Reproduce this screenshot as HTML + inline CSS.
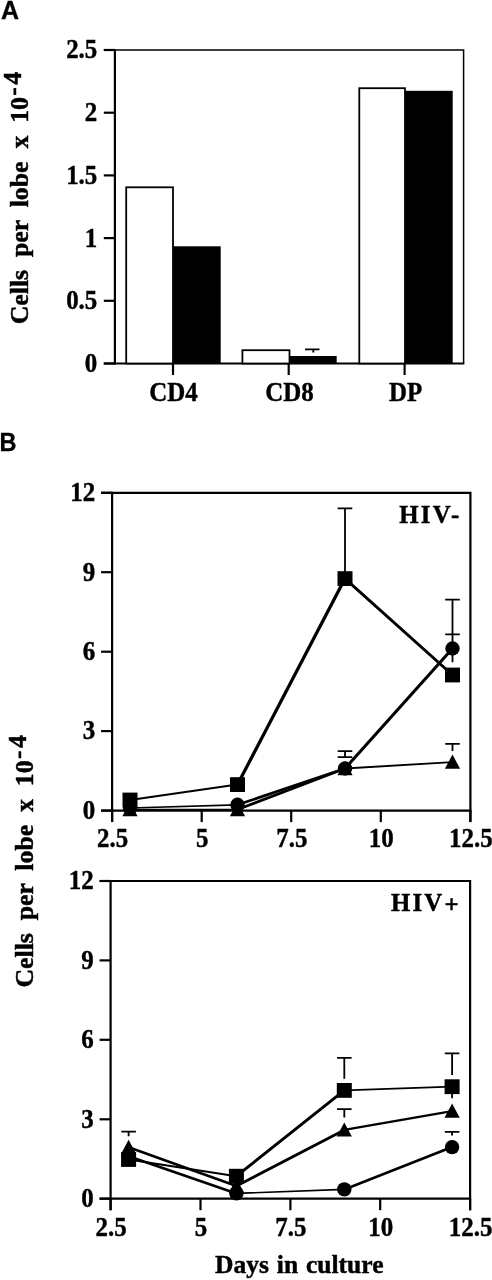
<!DOCTYPE html>
<html><head><meta charset="utf-8"><title>Figure</title>
<style>
html,body{margin:0;padding:0;background:#fff;overflow:hidden;}
svg{display:block}
text{font-family:"Liberation Serif","Times New Roman",serif;font-weight:bold;fill:#000;stroke:#000;stroke-width:0.45px;stroke-linejoin:round}
.pl{font-family:"Liberation Sans",Arial,sans-serif;font-weight:bold;font-size:25px;stroke-width:0.3px}
.ax{stroke:#000;stroke-width:2.2;fill:none;stroke-linecap:butt}
.thin{stroke:#000;stroke-width:1.5;fill:none}
.eb{stroke:#000;stroke-width:1.8;fill:none}
.dl{stroke:#000;fill:none;stroke-linecap:round}
</style></head><body>
<svg width="492" height="1280" viewBox="0 0 492 1280">
<rect width="492" height="1280" fill="#fff"/>

<text class="pl" x="1" y="18.9">A</text>
<path class="ax" d="M114.9 49V364.5"/>
<path class="ax" d="M103.8 363.5H464.3"/>
<path class="thin" d="M103.8 50H463.6V363.5"/>
<path class="ax" d="M103.8 50.0H114.9"/>
<text transform="translate(97.3,58.4) scale(0.89,1)" font-size="28" text-anchor="end">2.5</text>
<path class="ax" d="M103.8 112.7H114.9"/>
<text transform="translate(97.3,121.1) scale(0.89,1)" font-size="28" text-anchor="end">2</text>
<path class="ax" d="M103.8 175.4H114.9"/>
<text transform="translate(97.3,183.8) scale(0.89,1)" font-size="28" text-anchor="end">1.5</text>
<path class="ax" d="M103.8 238.1H114.9"/>
<text transform="translate(97.3,246.5) scale(0.89,1)" font-size="28" text-anchor="end">1</text>
<path class="ax" d="M103.8 300.8H114.9"/>
<text transform="translate(97.3,309.2) scale(0.89,1)" font-size="28" text-anchor="end">0.5</text>
<path class="ax" d="M103.8 363.5H114.9"/>
<text transform="translate(97.3,371.9) scale(0.89,1)" font-size="28" text-anchor="end">0</text>
<rect x="126.2" y="187.3" width="46.8" height="176.2" fill="#fff" stroke="#000" stroke-width="1.8"/>
<rect x="173" y="246.3" width="47.7" height="117.2" fill="#000"/>
<rect x="242.4" y="350.2" width="47.1" height="13.3" fill="#fff" stroke="#000" stroke-width="1.8"/>
<rect x="289.5" y="356.0" width="47.2" height="7.5" fill="#000"/>
<rect x="359.3" y="88.2" width="45.7" height="275.3" fill="#fff" stroke="#000" stroke-width="1.8"/>
<rect x="405" y="90.8" width="47.7" height="272.7" fill="#000"/>
<path class="eb" d="M305 349.3H319.5M313.3 349.3V352.5"/>
<path class="ax" d="M173 363.5V375"/>
<path class="ax" d="M288.7 363.5V375"/>
<path class="ax" d="M404.6 363.5V375"/>
<text transform="translate(173.4,400.9) scale(0.89,1)" font-size="28" text-anchor="middle">CD4</text>
<text transform="translate(289.5,400.9) scale(0.89,1)" font-size="28" text-anchor="middle">CD8</text>
<text transform="translate(405.5,400.9) scale(0.89,1)" font-size="28" text-anchor="middle">DP</text>
<text transform="translate(27.9,324.3) rotate(-90) scale(0.985,1)" font-size="26.2" text-anchor="start" word-spacing="6.5">Cells per lobe x 10<tspan dy="-6.6" dx="1.4" letter-spacing="2.5">-4</tspan></text>
<text class="pl" transform="translate(-0.4,451.1) scale(0.94,1)">B</text>
<path class="ax" d="M112.1 491.8V822.1"/>
<path class="ax" d="M101.1 810.6H471.4"/>
<path class="ax" d="M101.1 492.8H470.4V822.1"/>
<path class="ax" d="M101.1 492.8H112.1"/>
<text transform="translate(95.1,501.0) scale(0.89,1)" font-size="28" text-anchor="end">12</text>
<path class="ax" d="M101.1 572.2H112.1"/>
<text transform="translate(95.1,580.5) scale(0.89,1)" font-size="28" text-anchor="end">9</text>
<path class="ax" d="M101.1 651.7H112.1"/>
<text transform="translate(95.1,659.9) scale(0.89,1)" font-size="28" text-anchor="end">6</text>
<path class="ax" d="M101.1 731.1H112.1"/>
<text transform="translate(95.1,739.4) scale(0.89,1)" font-size="28" text-anchor="end">3</text>
<path class="ax" d="M101.1 810.6H112.1"/>
<text transform="translate(95.1,818.8) scale(0.89,1)" font-size="28" text-anchor="end">0</text>
<path class="ax" d="M112.1 810.6V822.1"/>
<text transform="translate(112.6,847.4) scale(0.89,1)" font-size="28" text-anchor="middle">2.5</text>
<path class="ax" d="M201.7 810.6V822.1"/>
<text transform="translate(202.2,847.4) scale(0.89,1)" font-size="28" text-anchor="middle">5</text>
<path class="ax" d="M291.2 810.6V822.1"/>
<text transform="translate(291.8,847.4) scale(0.89,1)" font-size="28" text-anchor="middle">7.5</text>
<path class="ax" d="M380.8 810.6V822.1"/>
<text transform="translate(381.3,847.4) scale(0.89,1)" font-size="28" text-anchor="middle">10</text>
<path class="ax" d="M470.4 810.6V822.1"/>
<text transform="translate(470.9,847.4) scale(0.89,1)" font-size="28" text-anchor="middle">12.5</text>
<text transform="translate(461.4,523.1) scale(1,1)" font-size="24.8" text-anchor="end" letter-spacing="2.2">HIV-</text>
<path class="eb" d="M337.7 508.3H352.3M345.0 508.3V572"/>
<path class="eb" d="M445.2 599.7H459.8M445.2 634.3H459.8M452.5 599.7V662.3"/>
<path class="eb" d="M337.7 751.1H352.3M337.7 757.2H352.3M345.0 751.1V757.2"/>
<path class="eb" d="M445.2 743.8H459.8M452.5 743.8V751"/>
<path class="dl" stroke-width="2.01" d="M130.0 800.0L237.5 784.6"/>
<path class="dl" stroke-width="3.28" d="M237.5 784.6L345.0 578.6"/>
<path class="dl" stroke-width="2.97" d="M345.0 578.6L452.5 675.0"/>
<path class="dl" stroke-width="1.72" d="M130.0 808.0L237.5 804.8"/>
<path class="dl" stroke-width="2.65" d="M237.5 804.8L345.0 768.5"/>
<path class="dl" stroke-width="3.07" d="M345.0 768.5L452.5 648.5"/>
<path class="dl" stroke-width="1.65" d="M130.0 809.5L237.5 809.5"/>
<path class="dl" stroke-width="2.68" d="M237.5 809.5L345.0 768.5"/>
<path class="dl" stroke-width="1.80" d="M345.0 768.5L452.5 762.1"/>
<rect x="122.5" y="792.6" width="15" height="14.8" fill="#000"/>
<rect x="230.0" y="777.2" width="15" height="14.8" fill="#000"/>
<rect x="337.5" y="571.2" width="15" height="14.8" fill="#000"/>
<rect x="445.0" y="667.6" width="15" height="14.8" fill="#000"/>
<circle cx="130.0" cy="808.0" r="7.2" fill="#000"/>
<circle cx="237.5" cy="804.8" r="7.2" fill="#000"/>
<circle cx="345.0" cy="768.5" r="7.2" fill="#000"/>
<circle cx="452.5" cy="648.5" r="7.2" fill="#000"/>
<path d="M130.0 802.0L137.6 816.2H122.4Z" fill="#000"/>
<path d="M237.5 802.0L245.1 816.2H229.9Z" fill="#000"/>
<path d="M345.0 761.0L352.6 775.2H337.4Z" fill="#000"/>
<path d="M452.5 754.6L460.1 768.8H444.9Z" fill="#000"/>
<path class="ax" d="M110.6 880V1210.2"/>
<path class="ax" d="M99.6 1198.7H471.1"/>
<path class="ax" d="M99.6 881H470.1V1210.2"/>
<path class="ax" d="M99.6 881.0H110.6"/>
<text transform="translate(93.6,889.2) scale(0.89,1)" font-size="28" text-anchor="end">12</text>
<path class="ax" d="M99.6 960.4H110.6"/>
<text transform="translate(93.6,968.6) scale(0.89,1)" font-size="28" text-anchor="end">9</text>
<path class="ax" d="M99.6 1039.8H110.6"/>
<text transform="translate(93.6,1048.0) scale(0.89,1)" font-size="28" text-anchor="end">6</text>
<path class="ax" d="M99.6 1119.3H110.6"/>
<text transform="translate(93.6,1127.5) scale(0.89,1)" font-size="28" text-anchor="end">3</text>
<path class="ax" d="M99.6 1198.7H110.6"/>
<text transform="translate(93.6,1206.9) scale(0.89,1)" font-size="28" text-anchor="end">0</text>
<path class="ax" d="M110.6 1198.7V1210.2"/>
<text transform="translate(111.1,1235.5) scale(0.89,1)" font-size="28" text-anchor="middle">2.5</text>
<path class="ax" d="M200.5 1198.7V1210.2"/>
<text transform="translate(201.0,1235.5) scale(0.89,1)" font-size="28" text-anchor="middle">5</text>
<path class="ax" d="M290.4 1198.7V1210.2"/>
<text transform="translate(290.9,1235.5) scale(0.89,1)" font-size="28" text-anchor="middle">7.5</text>
<path class="ax" d="M380.2 1198.7V1210.2"/>
<text transform="translate(380.7,1235.5) scale(0.89,1)" font-size="28" text-anchor="middle">10</text>
<path class="ax" d="M470.1 1198.7V1210.2"/>
<text transform="translate(470.6,1235.5) scale(0.89,1)" font-size="28" text-anchor="middle">12.5</text>
<text transform="translate(460.8,911.3) scale(1,1)" font-size="24.8" text-anchor="end" letter-spacing="2.2">HIV<tspan dy="1.8">+</tspan></text>
<path class="eb" d="M121.3 1131.7H135.9M128.6 1131.7V1136.3"/>
<path class="eb" d="M337.0 1057.8H351.6M344.3 1057.8V1078.8"/>
<path class="eb" d="M337.0 1109.1H351.6M344.3 1109.1V1117.4"/>
<path class="eb" d="M444.8 1053.4H459.4M452.1 1053.4V1074.9"/>
<path class="eb" d="M452.1 1090V1098.2"/>
<path class="eb" d="M444.8 1131.8H459.4M452.1 1131.8V1135.5"/>
<path class="dl" stroke-width="2.05" d="M128.6 1159.5L236.4 1176.2"/>
<path class="dl" stroke-width="2.93" d="M236.4 1176.2L344.3 1090.4"/>
<path class="dl" stroke-width="1.74" d="M344.3 1090.4L452.1 1086.7"/>
<path class="dl" stroke-width="2.65" d="M128.6 1156.3L236.4 1193.4"/>
<path class="dl" stroke-width="1.74" d="M236.4 1193.4L344.3 1189.4"/>
<path class="dl" stroke-width="2.69" d="M344.3 1189.4L452.1 1147.1"/>
<path class="dl" stroke-width="2.67" d="M128.6 1147.3L236.4 1186.0"/>
<path class="dl" stroke-width="2.78" d="M236.4 1186.0L344.3 1129.9"/>
<path class="dl" stroke-width="2.11" d="M344.3 1129.9L452.1 1111.1"/>
<rect x="121.1" y="1152.1" width="15" height="14.8" fill="#000"/>
<rect x="228.9" y="1168.8" width="15" height="14.8" fill="#000"/>
<rect x="336.8" y="1083.0" width="15" height="14.8" fill="#000"/>
<rect x="444.6" y="1079.3" width="15" height="14.8" fill="#000"/>
<circle cx="128.6" cy="1156.3" r="7.2" fill="#000"/>
<circle cx="236.4" cy="1193.4" r="7.2" fill="#000"/>
<circle cx="344.3" cy="1189.4" r="7.2" fill="#000"/>
<circle cx="452.1" cy="1147.1" r="7.2" fill="#000"/>
<path d="M128.6 1139.8L136.2 1154.0H121.0Z" fill="#000"/>
<path d="M236.4 1178.5L244.0 1192.7H228.8Z" fill="#000"/>
<path d="M344.3 1122.4L351.9 1136.6H336.7Z" fill="#000"/>
<path d="M452.1 1103.6L459.7 1117.8H444.5Z" fill="#000"/>
<text transform="translate(32.9,987.6) rotate(-90) scale(0.985,1)" font-size="26.2" text-anchor="start" word-spacing="6.5">Cells per lobe x 10<tspan dy="-6.6" dx="1.4" letter-spacing="2.5">-4</tspan></text>
<text transform="translate(299.3,1272.6) scale(0.975,1)" font-size="26.2" text-anchor="middle" word-spacing="1.5">Days in culture</text>
</svg></body></html>
